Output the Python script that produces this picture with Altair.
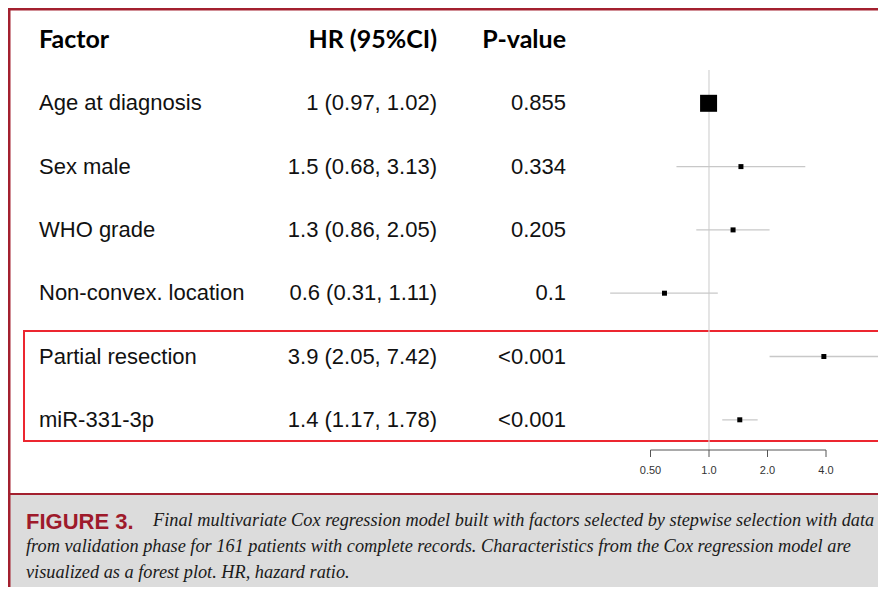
import altair as alt
import pandas as pd

# ---------------- data ----------------
factors = ["Age at diagnosis", "Sex male", "WHO grade", "Non-convex. location",
           "Partial resection", "miR-331-3p"]
hr_text = ["1 (0.97, 1.02)", "1.5 (0.68, 3.13)", "1.3 (0.86, 2.05)",
           "0.6 (0.31, 1.11)", "3.9 (2.05, 7.42)", "1.4 (1.17, 1.78)"]
p_text = ["0.855", "0.334", "0.205", "0.1", "<0.001", "<0.001"]
hr_est = [0.995, 1.46, 1.33, 0.59, 3.90, 1.44]
ci_low = [0.97, 0.68, 0.86, 0.31, 2.05, 1.17]
ci_high = [1.02, 3.13, 2.05, 1.11, 7.42, 1.78]
box_side = [17, 5, 5, 5, 5, 5]
row_idx = [1, 2, 3, 4, 5, 6]

headers = ["Factor", "HR (95%CI)", "P-value"]
tick_values = [0.5, 1.0, 2.0, 4.0]
tick_labels = ["0.50", "1.0", "2.0", "4.0"]

caption_label = "FIGURE 3."
caption_lines = [
    "Final multivariate Cox regression model built with factors selected by stepwise selection with data",
    "from validation phase for 161 patients with complete records. Characteristics from the Cox regression model are",
    "visualized as a forest plot. HR, hazard ratio.",
]

# ---------------- layout constants ----------------
W, H = 870, 579
REF_PX, PPD = 701, 58.5          # pixel of HR=1 and pixels per doubling
ROW0, ROWSTEP = 32, 63.3

xscale = alt.Scale(type="log", base=2,
                   domain=[2 ** (-REF_PX / PPD), 2 ** ((W - REF_PX) / PPD)],
                   range=[0, W], nice=False)
yscale = alt.Scale(domain=[-ROW0 / ROWSTEP, (H - ROW0) / ROWSTEP],
                   reverse=True, nice=False, zero=False)

df = pd.DataFrame({
    "factor": factors, "hr_text": hr_text, "p": p_text, "hr": hr_est,
    "lo": ci_low, "hi": ci_high, "area": [s * s for s in box_side], "row": row_idx,
})
hdr = pd.DataFrame({"h": headers, "row": [0, 0, 0]})
ticks_df = pd.DataFrame({"t": tick_values, "lab": tick_labels})
axis_df = pd.DataFrame({"a": [min(tick_values)], "b": [max(tick_values)]})
ref_df = pd.DataFrame({"v": [1.0]})
one = pd.DataFrame({"k": [0]})
cap_df = pd.DataFrame({"txt": caption_lines, "i": [0, 1, 2]})

X = lambda f: alt.X(f, scale=xscale, axis=None)
Y = lambda f: alt.Y(f, scale=yscale, axis=None)

BORDER = "#a3202f"

bg = alt.Chart(one).mark_rect(color="#dcdcdc").encode(
    x=alt.value(0), x2=alt.value(W), y=alt.value(487), y2=alt.value(H))
top_line = alt.Chart(one).mark_rule(color=BORDER, strokeWidth=3).encode(
    x=alt.value(0), x2=alt.value(W), y=alt.value(1))
left_line = alt.Chart(one).mark_rule(color=BORDER, strokeWidth=3).encode(
    x=alt.value(1), y=alt.value(0), y2=alt.value(H))
sep_line = alt.Chart(one).mark_rule(color=BORDER, strokeWidth=2).encode(
    x=alt.value(0), x2=alt.value(W), y=alt.value(486))
red_box = alt.Chart(one).mark_rect(fillOpacity=0, stroke="#ec2630", strokeWidth=2).encode(
    x=alt.value(16), x2=alt.value(877), y=alt.value(323), y2=alt.value(433))

ref_line = alt.Chart(ref_df).mark_rule(color="#d3d3d3", strokeWidth=1.2).encode(
    x=X("v:Q"), y=alt.value(62), y2=alt.value(442))
ci = alt.Chart(df).mark_rule(color="#c8c8c8", strokeWidth=1.3).encode(
    x=X("lo:Q"), x2="hi:Q", y=Y("row:Q"))
boxes = alt.Chart(df).mark_square(color="black", opacity=1, strokeWidth=0).encode(
    x=X("hr:Q"), y=Y("row:Q"), size=alt.Size("area:Q", scale=None))

axis_line = alt.Chart(axis_df).mark_rule(color="#555555", strokeWidth=1).encode(
    x=X("a:Q"), x2="b:Q", y=alt.value(442))
axis_ticks = alt.Chart(ticks_df).mark_rule(color="#555555", strokeWidth=1).encode(
    x=X("t:Q"), y=alt.value(442), y2=alt.value(449))
axis_labels = alt.Chart(ticks_df).mark_text(
    font="Liberation Sans", fontSize=11, color="#333333", baseline="middle").encode(
    x=X("t:Q"), y=alt.value(463), text="lab:N")

body = dict(font="Liberation Sans", fontSize=22, color="#111111", baseline="middle")
col_factor = alt.Chart(df).mark_text(align="left", **body).encode(
    x=alt.value(31), y=Y("row:Q"), text="factor:N")
col_hr = alt.Chart(df).mark_text(align="right", **body).encode(
    x=alt.value(429), y=Y("row:Q"), text="hr_text:N")
col_p = alt.Chart(df).mark_text(align="right", **body).encode(
    x=alt.value(558), y=Y("row:Q"), text="p:N")

head = dict(font="Lato", fontSize=25, fontWeight="bold", color="#000000", baseline="middle")
h1 = alt.Chart(hdr).transform_filter(alt.datum.h == headers[0]).mark_text(align="left", **head).encode(
    x=alt.value(31), y=Y("row:Q"), text="h:N")
h2 = alt.Chart(hdr).transform_filter(alt.datum.h == headers[1]).mark_text(align="right", **head).encode(
    x=alt.value(429), y=Y("row:Q"), text="h:N")
h3 = alt.Chart(hdr).transform_filter(alt.datum.h == headers[2]).mark_text(align="right", **head).encode(
    x=alt.value(558), y=Y("row:Q"), text="h:N")

cap_lab = alt.Chart(pd.DataFrame({"t": [caption_label]})).mark_text(
    align="left", baseline="middle", font="Liberation Sans", fontSize=22,
    fontWeight="bold", color="#9e1a2b").encode(
    x=alt.value(18), y=alt.value(514), text="t:N")
cap_style = dict(align="left", baseline="middle", font="Liberation Serif", fontSize=18.3,
                 fontStyle="italic", color="#1a1a1a")
cap_y = alt.Y("i:Q", scale=alt.Scale(domain=[0, 2], range=[513, 565]), axis=None)
cap_first = alt.Chart(cap_df).transform_filter(alt.datum.i == 0).mark_text(**cap_style).encode(
    x=alt.value(145), y=cap_y, text="txt:N")
cap_rest = alt.Chart(cap_df).transform_filter(alt.datum.i > 0).mark_text(**cap_style).encode(
    x=alt.value(18), y=cap_y, text="txt:N")

chart = alt.layer(
    bg, top_line, left_line, sep_line, red_box,
    ref_line, ci, boxes, axis_line, axis_ticks, axis_labels,
    col_factor, col_hr, col_p, h1, h2, h3, cap_lab, cap_first, cap_rest,
).resolve_scale(y="independent").properties(
    width=W, height=H, padding=0, autosize=alt.AutoSizeParams(type="none")
).configure_view(stroke=None)

chart.save("out.html", embed_options={"renderer": "svg", "actions": False})
